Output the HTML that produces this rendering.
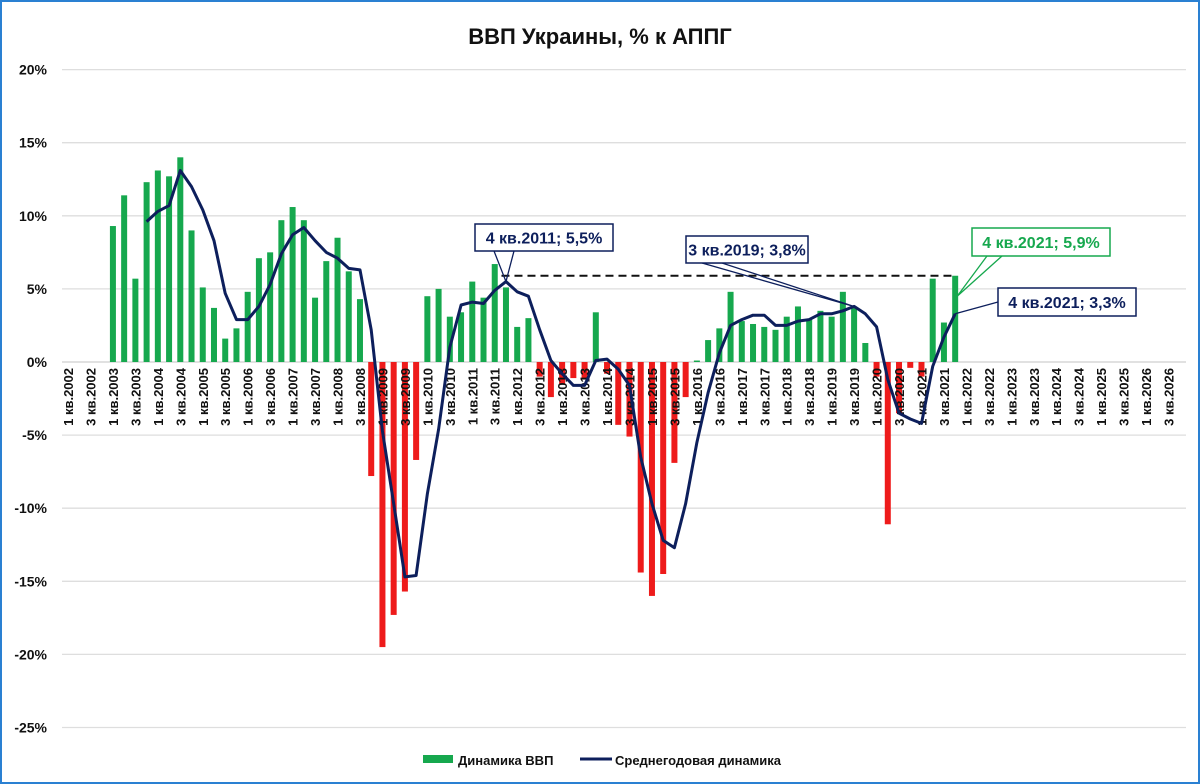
<!DOCTYPE html>
<html><head><meta charset="utf-8"><style>
html,body{margin:0;padding:0;background:#fff}
#wrap{position:relative;width:1200px;height:784px;box-sizing:border-box;border:2px solid #2a80d2;background:#fff;overflow:hidden}
svg text{font-family:"Liberation Sans","DejaVu Sans",sans-serif}
</style></head><body>
<div id="wrap">
<svg id="chart" width="1196" height="780"></svg>
</div>
<script>
const yTicks=[20,15,10,5,0,-5,-10,-15,-20,-25];
const barStart=4;
const barValues=[9.3,11.4,5.7,12.3, 13.1,12.7,14.0,9.0, 5.1,3.7,1.6,2.3, 4.8,7.1,7.5,9.7, 10.6,9.7,4.4,6.9, 8.5,6.2,4.3,-7.8,
-19.5,-17.3,-15.7,-6.7, 4.5,5.0,3.1,3.4, 5.5,4.4,6.7,5.1, 2.4,3.0,-1.0,-2.4, -1.5,-1.1,-1.2,3.4, -0.8,-4.3,-5.1,-14.4,
-16.0,-14.5,-6.9,-2.4, 0.1,1.5,2.3,4.8, 2.8,2.6,2.4,2.2, 3.1,3.8,2.9,3.5, 3.1,4.8,3.7,1.3, -1.0,-11.1,-3.5,-0.4, -1.0,5.7,2.7,5.9];
const lineStart=7;
const lineValues=[9.6, 10.3,10.7,13.1,12.0, 10.4,8.3,4.7,2.9, 2.9,3.8,5.3,7.4, 8.7,9.2,8.3,7.5, 7.1,6.4,6.3,2.2,
-4.7,-9.7,-14.7,-14.6, -9.0,-4.6,1.0,3.9, 4.1,4.0,4.9,5.5, 4.8,4.5,2.2,0.1, -0.8,-1.6,-1.6,0.1, 0.2,-0.5,-1.6,-6.5,
-9.7,-12.2,-12.7,-9.7, -5.5,-2.1,0.6,2.5, 2.9,3.2,3.2,2.5, 2.5,2.8,2.9,3.3, 3.3,3.5,3.8,3.3, 2.4,-1.2,-3.5,-3.9, -4.2,-0.3,1.7,3.3];
const years=[];for(let y=2002;y<=2026;y++)years.push(y);
const dashLevel=5.9, dashFrom=38.6, dashTo=79;
const ns="http://www.w3.org/2000/svg";
const svg=document.getElementById('chart');
const X0=66,QW=11.23;
function xq(i){return X0+QW*i;}
function yv(v){return 360-v*14.62;}
function el(t,a,p){const e=document.createElementNS(ns,t);for(const k in a)e.setAttribute(k,a[k]);(p||svg).appendChild(e);return e;}
// title
let t=el('text',{x:598,y:42,'text-anchor':'middle','font-size':22,'font-weight':'bold',fill:'#111'});t.textContent='ВВП Украины, % к АППГ';


// grid + y labels
yTicks.forEach(v=>{
 const g=el('line',{x1:60,x2:1184,y1:yv(v),y2:yv(v),stroke:v===0?'#cfcfcf':'#dedede','stroke-width':1.3});
 
 
 const l=el('text',{x:45,y:yv(v)+5,'text-anchor':'end','font-size':14,'font-weight':'bold',fill:'#111'});l.textContent=v+'%';
 
 
});
// bars
barValues.forEach((v,k)=>{
 const i=barStart+k,x=xq(i)-3;
 const y=v>=0?yv(v):yv(0),h=Math.abs(yv(v)-yv(0));
 const r=el('rect',{x:x,y:y,width:6,height:h,fill:v>=0?'#16a84e':'#ee1b1b'});
 
 
});
// x labels
years.forEach((yr,k)=>{
 [0,2].forEach(q=>{
  const i=k*4+q,x=xq(i)+5;
  const l=el('text',{x:0,y:0,'text-anchor':'end','font-size':13,'font-weight':'bold',fill:'#111',transform:`translate(${x},366) rotate(-90)`});
  l.textContent=(q+1)+' кв.'+yr;
  
  
 });
});
// dashed
const d=el('line',{x1:xq(dashFrom),x2:xq(dashTo),y1:yv(dashLevel),y2:yv(dashLevel),stroke:'#111','stroke-width':2,'stroke-dasharray':'8,5'});


// line
const pts=lineValues.map((v,k)=>xq(lineStart+k).toFixed(1)+','+yv(v).toFixed(1)).join(' ');
const pl=el('polyline',{points:pts,fill:'none',stroke:'#0d1f5c','stroke-width':3,'stroke-linejoin':'round'});


// callouts
function callout(name,bx,by,bw,bh,text,color,px,py,ax1,ax2,ay){
 const g=el('g',{});
 
 
 el('polygon',{points:`${ax1},${ay} ${px},${py} ${ax2},${ay}`,fill:'none',stroke:color,'stroke-width':1.3},g);
 el('rect',{x:bx,y:by,width:bw,height:bh,fill:'#fff',stroke:color,'stroke-width':1.5},g);
 const tx=el('text',{x:bx+bw/2,y:by+bh/2+6,'text-anchor':'middle','font-size':16,'font-weight':'bold',fill:color},g);tx.textContent=text;
}
callout('callout-2011q4',473,222,138,27,'4 кв.2011; 5,5%','#0d1f5c',xq(39),yv(5.5),492,512,249);
callout('callout-2019q3',684,234,122,27,'3 кв.2019; 3,8%','#0d1f5c',xq(70),yv(3.8),700,720,261);
callout('callout-2021q4-gdp',970,226,138,28,'4 кв.2021; 5,9%','#16a84e',xq(79)+2,yv(4.5),985,1000,254);
callout('callout-2021q4-avg',996,286,138,28,'4 кв.2021; 3,3%','#0d1f5c',xq(79),yv(3.3),996,996,300);
// legend
const lg=el('g',{});


el('rect',{x:421,y:753,width:30,height:8,fill:'#16a84e'},lg);
let l1=el('text',{x:456,y:763,'font-size':13,'font-weight':'bold',fill:'#111'},lg);l1.textContent='Динамика ВВП';
el('line',{x1:578,x2:610,y1:757,y2:757,stroke:'#0d1f5c','stroke-width':3},lg);
let l2=el('text',{x:613,y:763,'font-size':13,'font-weight':'bold',fill:'#111'},lg);l2.textContent='Среднегодовая динамика';
</script>
</body></html>
